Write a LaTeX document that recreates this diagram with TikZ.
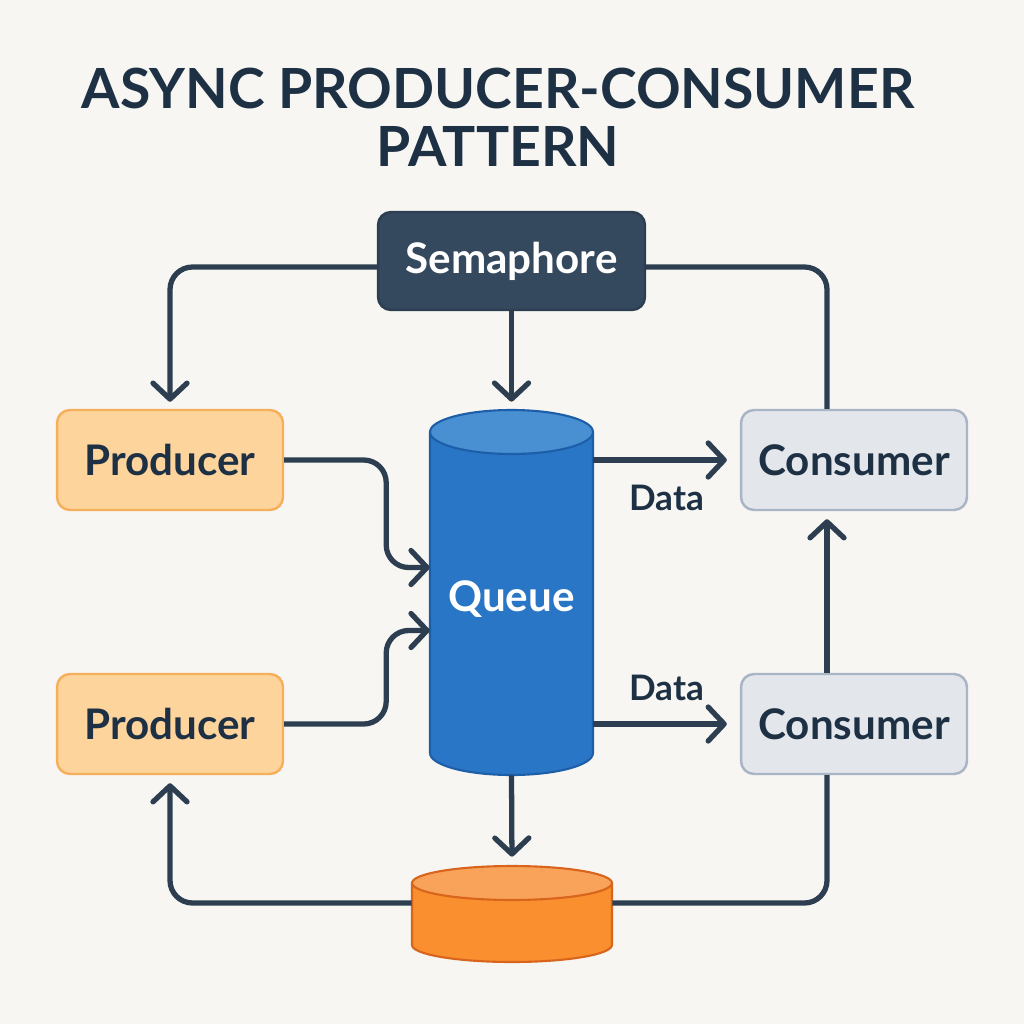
\documentclass[tikz,border=0pt]{standalone}
\usepackage{fontspec}
\setmainfont{Lato}
\usepackage{xcolor}
\usepackage{tikz}
\usetikzlibrary{arrows.meta,positioning,calc}

\definecolor{bgpaper}{HTML}{F7F6F3}
\definecolor{inkdark}{HTML}{1E3144}
\definecolor{linedark}{HTML}{2C3E50}
\definecolor{semfill}{HTML}{34495E}
\definecolor{prodfill}{HTML}{FDD49B}
\definecolor{prodedge}{HTML}{F6B05C}
\definecolor{consfill}{HTML}{E3E6EB}
\definecolor{consedge}{HTML}{A9B4C5}
\definecolor{queuebody}{HTML}{2A76C6}
\definecolor{queuetop}{HTML}{4890D2}
\definecolor{queueedge}{HTML}{1D5EA8}
\definecolor{diskbody}{HTML}{F98F2E}
\definecolor{disktop}{HTML}{F9A35A}
\definecolor{diskedge}{HTML}{D9641C}

\begin{document}
\begin{tikzpicture}[x=0.02cm,y=0.02cm,
    box/.style={rounded corners=0.26cm,line width=1.4pt,minimum width=4.52cm,
        minimum height=2cm,font=\fontsize{24}{28}\selectfont\bfseries,text=inkdark},
    prodbox/.style={box,fill=prodfill,draw=prodedge},
    consbox/.style={box,fill=consfill,draw=consedge},
    conn/.style={line width=3pt,draw=linedark,rounded corners=0.45cm},
    flow/.style={conn,-{Straight Barb[length=0.32cm,width=0.68cm,line cap=round,line join=round]}},
    datalbl/.style={font=\fontsize{20}{24}\selectfont\bfseries,text=inkdark}]

        % Paper
        \fill[bgpaper] (0,0) rectangle (1024,-1024);

        % Title
        \node[font=\fontsize{31.5}{33}\selectfont\bfseries,text=inkdark,align=center] (title) at (498,-117)
            {ASYNC PRODUCER-CONSUMER\\PATTERN};

        % Semaphore
        \node[box,fill=semfill,draw=linedark,minimum width=5.34cm,minimum height=1.96cm,text=white]
            (sem) at (511.5,-261) {Semaphore};

        % Producers and consumers
        \node[prodbox] (prod1) at (170,-460) {Producer};
        \node[prodbox] (prod2) at (170,-724) {Producer};
        \node[consbox] (cons1) at (854,-460) {Consumer};
        \node[consbox] (cons2) at (854,-724) {Consumer};

        % Queue cylinder
        \fill[queuebody] (430,-432) -- (430,-753)
            arc[start angle=180,end angle=360,x radius=1.63cm,y radius=0.44cm] -- (593,-432) -- cycle;
        \draw[queueedge,line width=1.2pt] (430,-432) -- (430,-753)
            arc[start angle=180,end angle=360,x radius=1.63cm,y radius=0.44cm] -- (593,-432);
        \filldraw[fill=queuetop,draw=queueedge,line width=1.2pt] (511.5,-432) ellipse [x radius=1.63cm,y radius=0.44cm];
        \node[minimum width=3.26cm,minimum height=7.3cm,inner sep=0pt] (queue) at (511.5,-592.5) {};
        \node[font=\fontsize{24}{28}\selectfont\bfseries,text=white] (queuetxt) at (511.5,-599) {Queue};

        % Storage disk
        \fill[diskbody] (412,-883) -- (412,-945)
            arc[start angle=180,end angle=360,x radius=2cm,y radius=0.34cm] -- (612,-883) -- cycle;
        \draw[diskedge,line width=1.2pt] (412,-883) -- (412,-945)
            arc[start angle=180,end angle=360,x radius=2cm,y radius=0.34cm] -- (612,-883);
        \filldraw[fill=disktop,draw=diskedge,line width=1.2pt] (512,-883) ellipse [x radius=2cm,y radius=0.34cm];
        \node[minimum width=4cm,minimum height=1.92cm,inner sep=0pt] (disk) at (512,-914) {};

        % Semaphore signals
        \draw[flow,shorten >=0.14cm] ([yshift=-0.12cm]sem.west) -| (prod1.north);
        \draw[conn] ([yshift=-0.12cm]sem.east) -| ([xshift=-0.54cm]cons1.north);
        \draw[flow,shorten >=0.16cm] (sem.south) -- (queue.north);

        % Producers into queue
        \draw[flow] (prod1.east) -- ++(102,0) |- ([yshift=0.5cm]queue.west);
        \draw[flow] (prod2.east) -- ++(102,0) |- ([yshift=-0.76cm]queue.west);

        % Data out to consumers
        \draw[flow,shorten >=0.26cm] (queue.east |- cons1.west) -- (cons1.west)
            node[datalbl,midway,below=0.34cm] (data1) {Data};
        \draw[flow,shorten >=0.26cm] (queue.east |- cons2.west) -- (cons2.west)
            node[datalbl,midway,above=0.3cm] (data2) {Data};
        \draw[flow,shorten >=0.16cm] ([xshift=-0.54cm]cons2.north) -- ([xshift=-0.54cm]cons1.south);

        % Queue down to storage and back
        \draw[flow,shorten >=0.18cm] (queue.south) -- (disk.north);
        \draw[flow,shorten >=0.16cm] ([yshift=0.22cm]disk.west) -| (prod2.south);
        \draw[conn] ([yshift=0.22cm]disk.east) -| ([xshift=-0.54cm]cons2.south);

    \end{tikzpicture}
\end{document}
